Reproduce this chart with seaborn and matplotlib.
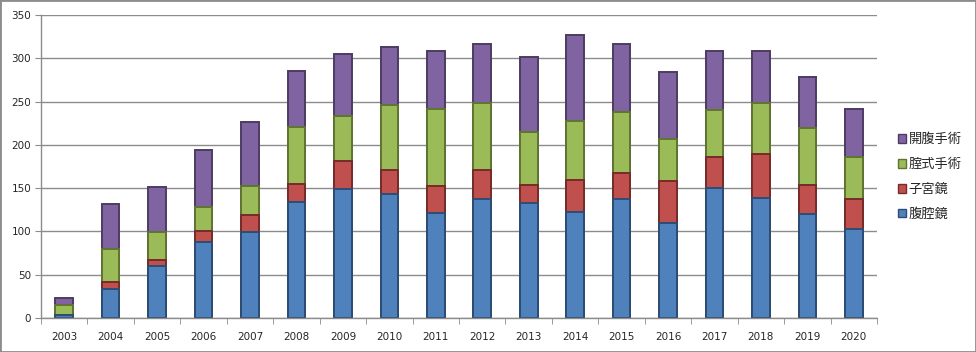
import numpy as np
import seaborn as sns
import matplotlib.pyplot as plt
from matplotlib.patches import Patch, Rectangle

years = [str(y) for y in range(2003, 2021)]
# 腹腔鏡, 子宮鏡, 腟式手術, 開腹手術 (bottom -> top)
laparoscopy = [3, 34, 60, 88, 99, 134, 149, 143, 121, 138, 133, 122, 138, 110, 150, 139, 120, 103]
hysteroscopy = [1, 8, 7, 12, 20, 21, 32, 28, 31, 33, 21, 37, 29, 48, 36, 50, 34, 35]
vaginal = [11, 38, 32, 28, 34, 66, 53, 75, 89, 77, 61, 69, 71, 49, 54, 60, 65, 48]
open_surgery = [8, 52, 52, 66, 73, 65, 71, 67, 67, 69, 87, 99, 79, 77, 69, 60, 59, 55]

labels = ['腹腔鏡', '子宮鏡', '腟式手術', '開腹手術']
colors = ['#4F81BD', '#C0504D', '#9BBB59', '#8064A2']
edges = ['#2C4D75', '#772C2A', '#5F7530', '#4D3B62']

sns.set_style('white')
plt.rcParams['font.family'] = ['Noto Sans CJK JP', 'DejaVu Sans']

fig = plt.figure(figsize=(9.76, 3.52), dpi=100)
ax = fig.add_axes([0.042, 0.0966, 0.8566, 0.8604])

series = [laparoscopy, hysteroscopy, vaginal, open_surgery]
cum = np.cumsum(np.array(series), axis=0)

# draw the tallest stack first, smaller cumulative sums on top of it
for i in range(3, -1, -1):
    sns.barplot(x=years, y=cum[i], color=colors[i], saturation=1, width=0.38,
                edgecolor=edges[i], linewidth=1.4, ax=ax)

ax.set_ylim(0, 350)
ax.set_xlim(-0.5, 17.5)
ax.set_yticks(range(0, 351, 50))
ax.yaxis.grid(True, color='#8C8C8C', linewidth=1)
ax.set_axisbelow(True)
ax.set_xlabel('')
ax.set_ylabel('')

for s in ['top', 'right']:
    ax.spines[s].set_visible(False)
for s in ['left', 'bottom']:
    ax.spines[s].set_color('#8C8C8C')
    ax.spines[s].set_linewidth(1)

ax.set_xticks(np.arange(-0.5, 18, 1), minor=True)
ax.tick_params(axis='x', which='major', length=0, labelsize=7.5, pad=10)
ax.tick_params(axis='x', which='minor', length=4, color='#8C8C8C', direction='out', bottom=True)
ax.tick_params(axis='y', length=4, color='#8C8C8C', direction='out', left=True, labelsize=7.5, pad=3)
for t in ax.get_xticklabels() + ax.get_yticklabels():
    t.set_family('DejaVu Sans')

handles = [Patch(facecolor=colors[i], edgecolor=edges[i], label=labels[i]) for i in range(3, -1, -1)]
fig.legend(handles=handles, loc='center left', bbox_to_anchor=(0.915, 0.497), frameon=False,
           fontsize=9.5, handlelength=0.6, handleheight=0.6, handletextpad=0.2, labelspacing=0.9,
           borderaxespad=0)

fig.patches.append(Rectangle((0, 0), 1, 1, transform=fig.transFigure, fill=False,
                             edgecolor='#8C8C8C', linewidth=2))

fig.savefig('out.png', dpi=100)
